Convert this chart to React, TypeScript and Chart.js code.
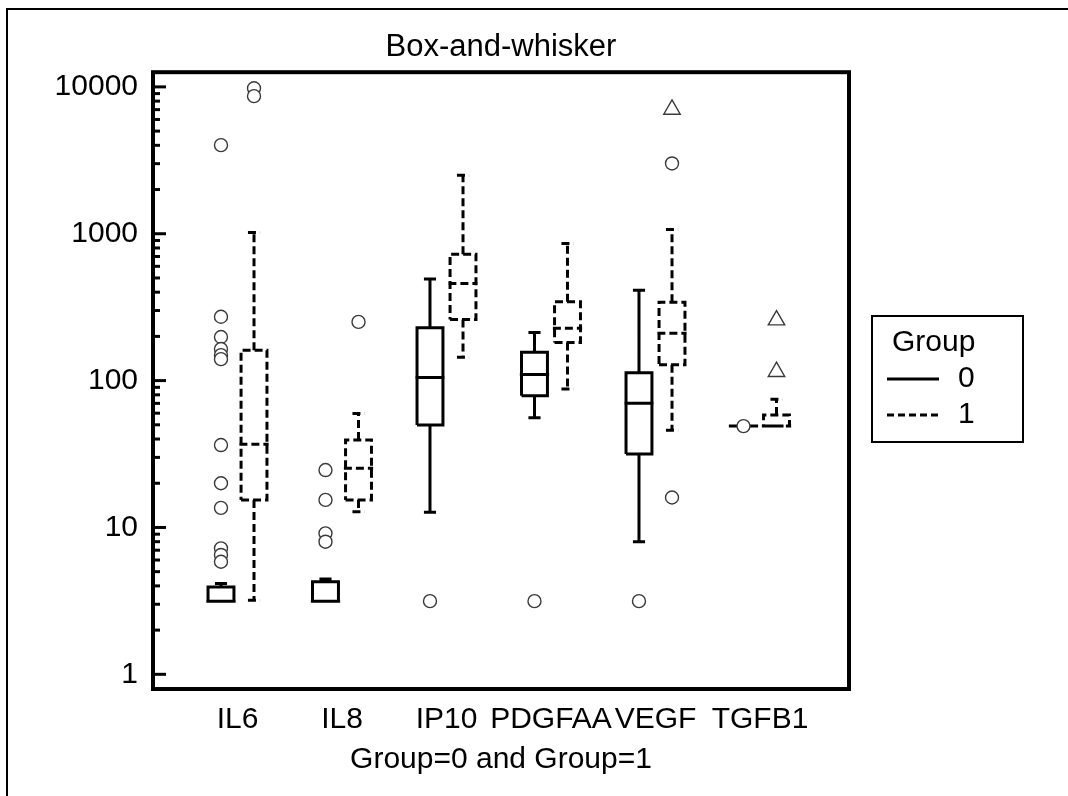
import React, { useEffect, useRef } from 'react';
import { Chart, registerables } from 'chart.js';

Chart.register(...registerables);

const FONT = '"Liberation Sans", Arial, Helvetica, sans-serif';

// ---------- data ----------
const chartTitle = 'Box-and-whisker';
const xAxisTitle = 'Group=0 and Group=1';
const legendTitle = 'Group';
const groupNames = ['0', '1'];
const categories = ['IL6', 'IL8', 'IP10', 'PDGFAA', 'VEGF', 'TGFB1'];
const yTickValues = [1, 10, 100, 1000, 10000];

// Group 0
const g0Low = [3.15, 3.15, 12.7, 55.8, 8.0, 49];
const g0Q1 = [3.15, 3.15, 49.8, 78.8, 31.6, 49];
const g0Median = [3.15, 3.15, 105, 110, 70, 49];
const g0Q3 = [3.93, 4.27, 229, 156, 113, 49];
const g0High = [4.15, 4.45, 491, 213, 413, 49];
const g0Outliers = [
  [4010, 272, 198, 164, 149, 140, 36.4, 20, 13.6, 7.2, 6.5, 5.84],
  [24.6, 15.4, 9.12, 8.0],
  [3.15],
  [3.15],
  [3.15],
  [49],
];
const g0FarOutliers: number[][] = [[], [], [], [], [], []];

// Group 1
const g1Low = [3.2, 12.8, 144, 87.5, 46, 49];
const g1Q1 = [15.4, 15.4, 261, 182, 128, 49];
const g1Median = [36.8, 25.3, 459, 227, 210, 49];
const g1Q3 = [161, 39.4, 726, 344, 341, 58.2];
const g1High = [1020, 59.8, 2506, 859, 1069, 74.5];
const g1Outliers = [[9780, 8650], [251], [], [], [3010, 16.0], []];
const g1FarOutliers = [[], [], [], [], [7020], [258, 115]];

// ---------- drawing constants ----------
const GROUP_OFFSETS = [-0.158, 0.158];
const BOX_HALF = 0.124;
const MED_HALF = 0.14;
const CAP_HALF = 0.058;

type Pt = { x: number; y: number | null };

function boxPoints(low: number[], q1: number[], med: number[], q3: number[], high: number[], offset: number): Pt[] {
  const pts: Pt[] = [];
  const gap = (c: number) => pts.push({ x: c, y: null });
  categories.forEach((_, i) => {
    const c = i + 1 + offset;
    pts.push(
      { x: c - BOX_HALF, y: q1[i] },
      { x: c + BOX_HALF, y: q1[i] },
      { x: c + BOX_HALF, y: q3[i] },
      { x: c - BOX_HALF, y: q3[i] },
      { x: c - BOX_HALF, y: q1[i] }
    );
    gap(c);
    pts.push({ x: c - MED_HALF, y: med[i] }, { x: c + MED_HALF, y: med[i] });
    gap(c);
    pts.push({ x: c, y: q3[i] }, { x: c, y: high[i] });
    gap(c);
    pts.push({ x: c - CAP_HALF, y: high[i] }, { x: c + CAP_HALF, y: high[i] });
    gap(c);
    pts.push({ x: c, y: q1[i] }, { x: c, y: low[i] });
    gap(c);
    pts.push({ x: c - CAP_HALF, y: low[i] }, { x: c + CAP_HALF, y: low[i] });
    gap(c);
  });
  return pts;
}

function outlierPoints(list: number[][], offset: number): Pt[] {
  const pts: Pt[] = [];
  list.forEach((vals, i) => vals.forEach((v) => pts.push({ x: i + 1 + offset, y: v })));
  return pts;
}

const decorPlugin = {
  id: 'decor',
  beforeDraw(chart: any) {
    const { ctx } = chart;
    ctx.save();
    ctx.fillStyle = '#fff';
    ctx.fillRect(0, 0, chart.width, chart.height);
    ctx.strokeStyle = '#000';
    ctx.lineWidth = 2;
    ctx.strokeRect(7, 9, chart.width + 40, chart.height + 40);
    ctx.restore();
  },
  afterDatasetsDraw(chart: any) {
    const { ctx, chartArea: a, scales } = chart;
    const ys = scales.y;
    ctx.save();
    ctx.strokeStyle = '#000';
    ctx.lineWidth = 4;
    ctx.strokeRect(a.left, a.top, a.right - a.left, a.bottom - a.top);
    ctx.lineWidth = 3;
    const tick = (v: number, len: number) => {
      const py = ys.getPixelForValue(v);
      ctx.beginPath();
      ctx.moveTo(a.left, py);
      ctx.lineTo(a.left + len, py);
      ctx.stroke();
    };
    yTickValues.forEach((base, e) => {
      tick(base, 13);
      if (e < yTickValues.length - 1) {
        for (let k = 2; k <= 9; k++) tick(base * k, 7);
      }
    });

    // legend
    const lx = a.right + 23;
    const ly = 316;
    ctx.lineWidth = 2;
    ctx.strokeRect(lx, ly, 151, 126);
    ctx.fillStyle = '#000';
    ctx.font = `30px ${FONT}`;
    ctx.textBaseline = 'middle';
    ctx.textAlign = 'left';
    ctx.fillText(legendTitle, lx + 20, ly + 27);
    groupNames.forEach((name, i) => {
      const yy = ly + 63 + i * 36;
      ctx.lineWidth = 3;
      ctx.setLineDash(i === 0 ? [] : [7, 4]);
      ctx.beginPath();
      ctx.moveTo(lx + 15, yy);
      ctx.lineTo(lx + 67, yy);
      ctx.stroke();
      ctx.setLineDash([]);
      ctx.fillText(name, lx + 86, yy);
    });
    ctx.restore();
  },
};

export default function App() {
  const ref = useRef<HTMLCanvasElement>(null);

  useEffect(() => {
    const canvas = ref.current;
    if (!canvas) return;
    Chart.defaults.font.family = FONT;
    Chart.defaults.color = '#000';

    const groups = [
      { low: g0Low, q1: g0Q1, med: g0Median, q3: g0Q3, high: g0High, out: g0Outliers, far: g0FarOutliers, dash: [10000, 0] },
      { low: g1Low, q1: g1Q1, med: g1Median, q3: g1Q3, high: g1High, out: g1Outliers, far: g1FarOutliers, dash: [8, 4] },
    ];

    const datasets: any[] = [];
    groups.forEach((g, gi) => {
      const off = GROUP_OFFSETS[gi];
      datasets.push({
        label: `out${gi}`,
        data: outlierPoints(g.out, off),
        showLine: false,
        pointStyle: 'circle',
        pointRadius: 6.5,
        pointBorderWidth: 1.4,
        pointBorderColor: '#3a3a3a',
        pointBackgroundColor: '#fff',
        order: 0,
      });
      datasets.push({
        label: `far${gi}`,
        data: outlierPoints(g.far, off),
        showLine: false,
        pointStyle: 'triangle',
        pointRadius: 9.5,
        pointBorderWidth: 1.4,
        pointBorderColor: '#3a3a3a',
        pointBackgroundColor: '#fff',
        order: 0,
      });
    });
    groups.forEach((g, gi) => {
      const off = GROUP_OFFSETS[gi];
      datasets.push({
        label: `box${gi}`,
        data: boxPoints(g.low, g.q1, g.med, g.q3, g.high, off),
        showLine: true,
        spanGaps: false,
        pointRadius: 0,
        borderColor: '#000',
        borderWidth: 3,
        borderDash: g.dash,
        borderJoinStyle: 'miter',
        borderCapStyle: 'butt',
        tension: 0,
        order: 1,
      });
    });

    const chart = new Chart(canvas, {
      type: 'scatter',
      data: { datasets },
      plugins: [decorPlugin],
      options: {
        responsive: false,
        animation: false,
        devicePixelRatio: 1,
        layout: { padding: { left: 0, right: 219, top: 0, bottom: 0 } },
        plugins: {
          legend: { display: false },
          tooltip: { enabled: false },
          title: {
            display: true,
            text: chartTitle,
            fullSize: false,
            color: '#000',
            font: { size: 31, weight: 'normal', family: FONT },
            padding: { top: 29, bottom: 6 },
          },
        },
        scales: {
          x: {
            type: 'linear',
            min: 0.1914,
            max: 6.8517,
            bounds: 'data',
            grid: { display: false, drawTicks: false },
            border: { display: false },
            afterBuildTicks: (scale: any) => {
              scale.ticks = categories.map((_, i) => ({ value: i + 1 }));
            },
            afterFit: (scale: any) => {
              scale.height = 107;
            },
            ticks: {
              autoSkip: false,
              maxRotation: 0,
              padding: 13,
              color: '#000',
              font: { size: 30, family: FONT },
              callback: (v: any) => categories[Math.round(Number(v)) - 1] ?? '',
            },
            title: {
              display: true,
              text: xAxisTitle,
              color: '#000',
              font: { size: 30, family: FONT },
              padding: { top: 4, bottom: 18 },
            },
          },
          y: {
            type: 'logarithmic',
            min: Math.pow(10, -0.1),
            max: Math.pow(10, 4.1),
            bounds: 'data',
            grid: { display: false, drawTicks: false },
            border: { display: false },
            afterBuildTicks: (scale: any) => {
              scale.ticks = yTickValues.map((v) => ({ value: v, major: true }));
            },
            afterFit: (scale: any) => {
              scale.width = 153;
            },
            ticks: {
              autoSkip: false,
              padding: 15,
              color: '#000',
              font: { size: 30, family: FONT },
              callback: (v: any) => String(v),
            },
          },
        },
      },
    });
    return () => chart.destroy();
  }, []);

  return (
    <div style={{ position: 'fixed', left: 0, top: 0, width: 1068, height: 796, background: '#fff' }}>
      <canvas ref={ref} width={1068} height={796} style={{ display: 'block', width: 1068, height: 796 }} />
    </div>
  );
}
